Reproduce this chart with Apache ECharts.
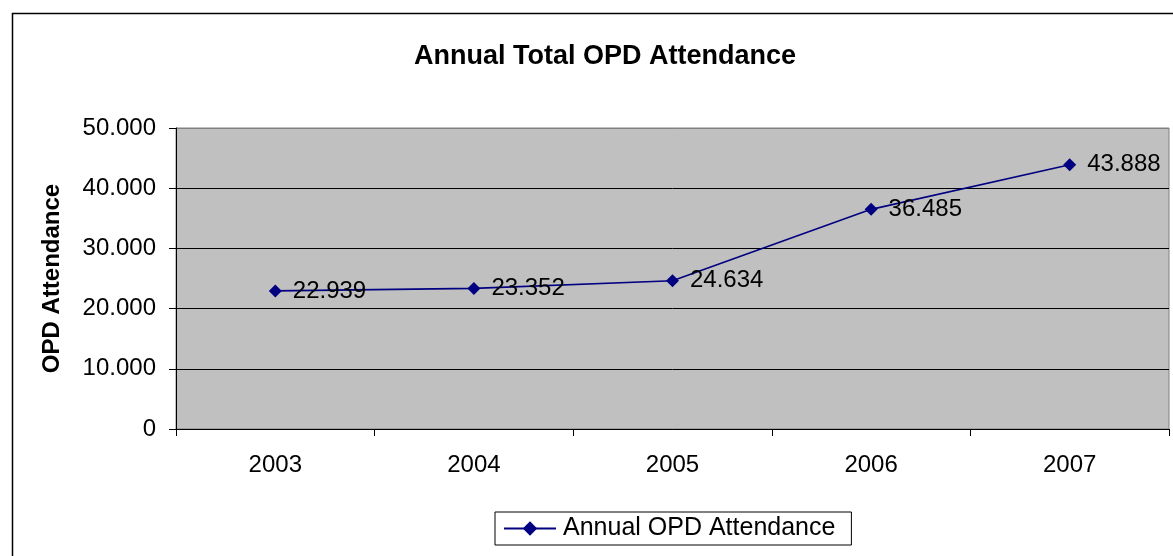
<!DOCTYPE html>
<html>
<head>
<meta charset="utf-8">
<script src="https://cdn.jsdelivr.net/npm/echarts@6/dist/echarts.min.js"></script>
<style>
html,body{margin:0;padding:0;background:#fff;}
#chart{width:1173px;height:556px;}
</style>
</head>
<body>
<div id="chart"></div>
<script>
var categories = ['2003', '2004', '2005', '2006', '2007'];
var attendance = [22939, 23352, 24634, 36485, 43888];
var seriesName = 'Annual OPD Attendance';
var chartTitle = 'Annual Total OPD Attendance';
var yAxisTitle = 'OPD Attendance';

function fmt(v) {
  var s = String(Math.round(v));
  return s.replace(/\B(?=(\d{3})+(?!\d))/g, '.');
}

var FONT = 'Liberation Sans, Arial, sans-serif';
var chart = echarts.init(document.getElementById('chart'), null, {renderer: 'canvas'});
chart.setOption({
  backgroundColor: '#ffffff',
  animation: false,
  title: {
    text: chartTitle,
    left: 600, textAlign: 'center', top: 38,
    textStyle: {fontFamily: FONT, fontSize: 27, fontWeight: 'bold', color: '#000'}
  },
  graphic: [{
    type: 'rect', left: 10, top: 11, silent: true,
    shape: {width: 1200, height: 600},
    style: {fill: 'none', stroke: '#000', lineWidth: 1.5}
  }],
  legend: {
    data: [seriesName],
    left: 495, top: 512,
    padding: [4, 16, 4, 8],
    borderColor: '#000', borderWidth: 1,
    itemWidth: 52, itemHeight: 18, itemGap: 10,
    textStyle: {fontFamily: FONT, fontSize: 25, color: '#000', padding: [0, 0, 0, 2]}
  },
  grid: {
    left: 176, top: 128, right: 4, bottom: 127,
    show: true, backgroundColor: '#C0C0C0', borderColor: '#808080', borderWidth: 1
  },
  xAxis: {
    type: 'category', data: categories, boundaryGap: true,
    axisLine: {lineStyle: {color: '#000', width: 1}},
    axisTick: {show: true, length: 7, inside: false, alignWithLabel: false, lineStyle: {color: '#000'}},
    axisLabel: {margin: 24, fontFamily: FONT, fontSize: 24, color: '#000'},
    splitLine: {show: false}
  },
  yAxis: {
    type: 'value', min: 0, max: 50000, interval: 10000,
    name: yAxisTitle, nameLocation: 'middle', nameGap: 112, nameRotate: 90,
    nameTextStyle: {fontFamily: FONT, fontSize: 24, fontWeight: 'bold', color: '#000'},
    axisLine: {show: true, lineStyle: {color: '#000', width: 1}},
    axisTick: {show: true, length: 7, lineStyle: {color: '#000'}},
    axisLabel: {margin: 20, fontFamily: FONT, fontSize: 24, color: '#000', formatter: function (v) { return fmt(v); }},
    splitLine: {show: true, lineStyle: {color: ['#000', '#000', '#000', '#000', '#000', '#808080'], width: 1}}
  },
  series: [{
    name: seriesName, type: 'line', data: attendance,
    symbol: 'diamond', symbolSize: 13,
    itemStyle: {color: '#000080'},
    lineStyle: {color: '#000080', width: 1.6},
    label: {
      show: true, position: 'right', distance: 11,
      fontFamily: FONT, fontSize: 24, color: '#000',
      formatter: function (p) { return fmt(p.value); }
    }
  }]
});
</script>
</body>
</html>
